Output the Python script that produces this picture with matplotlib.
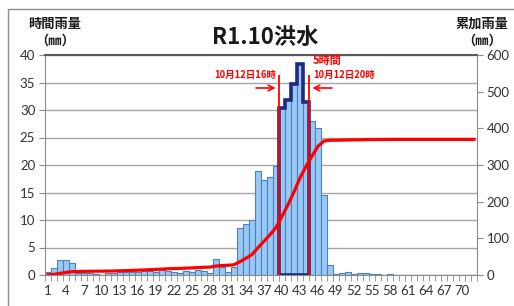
import numpy as np
import matplotlib.pyplot as plt
from matplotlib.patches import Rectangle

plt.rcParams['font.family'] = ['Noto Sans CJK JP', 'DejaVu Sans']

# hourly rainfall (mm), hours 1..72
hours = list(range(1, 73))
rain = [0.5, 1.2, 2.7, 2.7, 2.1, 0.4, 0.3, 0.3, 0.2, 0.0,
        0.3, 0.3, 0.5, 0.5, 0.6, 0.5, 0.7, 0.8, 0.6, 1.0,
        0.8, 0.6, 0.3, 0.8, 0.6, 1.0, 0.8, 0.4, 2.9, 1.5,
        0.6, 1.5, 8.5, 9.2, 10.0, 18.9, 17.3, 17.8, 19.8, 30.4,
        31.9, 34.7, 38.4, 31.4, 28.0, 26.8, 14.5, 1.8, 0.2, 0.3,
        0.5, 0.2, 0.3, 0.3, 0.2, 0.2, 0.0, 0.2, 0.0, 0.0,
        0.0, 0.0, 0.0, 0.0, 0.0, 0.0, 0.0, 0.0, 0.0, 0.0,
        0.0, 0.0]
# cumulative rainfall (mm)
cumulative = [0.5, 1.7, 4.4, 7.1, 9.2, 9.6, 9.9, 10.2, 10.4, 10.4,
              10.7, 11.0, 11.5, 12.0, 12.6, 13.1, 13.8, 14.6, 15.2, 16.2,
              17.0, 17.6, 17.9, 18.7, 19.3, 20.3, 21.1, 21.5, 24.4, 25.9,
              26.5, 28.0, 36.5, 45.7, 55.7, 74.6, 91.9, 109.7, 129.5, 159.9,
              191.8, 226.5, 264.9, 296.3, 324.3, 351.1, 365.6, 367.4, 367.6, 367.9,
              368.4, 368.6, 368.9, 369.2, 369.4, 369.6, 369.6, 369.8, 369.8, 369.8,
              369.8, 369.8, 369.8, 369.8, 369.8, 369.8, 369.8, 369.8, 369.8, 369.8,
              369.8, 369.8]
peak_start, peak_end = 40, 44   # 5-hour peak window
tick_labels = [str(h) for h in range(1, 71, 3)]

fig = plt.figure(figsize=(5.14, 3.06), dpi=100)
fig.patches.append(Rectangle((8 / 514, -0.2), 1.2, 1.2 - 9 / 306,
                             transform=fig.transFigure, fill=False,
                             edgecolor='#8c8c8c', lw=1))
ax = fig.add_axes([45 / 514, 31 / 306, 432 / 514, 220 / 306])

ax.bar(hours, rain, width=1.0, color='#99c8f5', edgecolor='#4f81bd', lw=0.8, zorder=2)

# peak-window outline
idx = slice(peak_start - 1, peak_end)
ax.stairs(rain[idx], np.arange(peak_start - 0.5, peak_end + 1.0), baseline=0,
          fill=False, color='#1f2a80', lw=2.6, zorder=4)
ax.plot([peak_start - 0.5, peak_end + 0.5], [0, 0], color='#1f2a80', lw=2.6,
        zorder=4, solid_capstyle='butt')
ax.vlines([peak_start - 0.5, peak_end + 0.5], 0, 36.3, color='red', lw=1.3, zorder=5)
ax.annotate('', xy=(peak_start - 0.6, 34.0), xytext=(peak_start - 4.8, 34.0),
            arrowprops=dict(arrowstyle='->', color='red', lw=1.2), zorder=5)
ax.annotate('', xy=(peak_end + 0.6, 34.0), xytext=(peak_end + 4.8, 34.0),
            arrowprops=dict(arrowstyle='->', color='red', lw=1.2), zorder=5)
ax.text(peak_start - 1.0, 35.5, '10月12日16時', color='red', fontsize=6.8,
        fontweight='bold', ha='right', va='bottom')
ax.text(peak_end + 1.2, 35.5, '10月12日20時', color='red', fontsize=6.8,
        fontweight='bold', ha='left', va='bottom')
ax.text(peak_end + 1.2, 37.8, '5時間', color='red', fontsize=8,
        fontweight='bold', ha='left', va='bottom')

ax.set_xlim(0.5, 72.5)
ax.set_ylim(0, 40)
ax.set_yticks(np.arange(0, 41, 5))
ax.set_xticks(range(1, 71, 3))
ax.set_xticklabels(tick_labels)
ax.set_xticks(np.arange(0.5, 73, 1), minor=True)
ax.tick_params(axis='x', which='major', length=0, pad=7, labelsize=9.5, labelcolor='#333333')
ax.tick_params(axis='x', which='minor', length=4, color='#8c8c8c')
ax.tick_params(axis='y', length=4, color='#8c8c8c', labelsize=9.5, labelcolor='#333333', pad=3)
for lab in ax.get_xticklabels() + ax.get_yticklabels():
    lab.set_family(['Lato', 'DejaVu Sans'])
ax.grid(axis='y', color='#a6a6a6', lw=1, zorder=0)
ax.set_axisbelow(True)
for s in ['left', 'bottom', 'right']:
    ax.spines[s].set_color('#8c8c8c')
ax.spines['top'].set_color('#595959')
ax.spines['top'].set_linewidth(1.5)

ax2 = ax.twinx()
ax2.plot(hours, cumulative, color='red', lw=2.3, zorder=6)
ax2.set_ylim(0, 600)
ax2.set_yticks(np.arange(0, 601, 100))
ax2.tick_params(axis='y', length=4, color='#8c8c8c', labelsize=9.5, labelcolor='#333333', pad=3)
for lab in ax2.get_yticklabels():
    lab.set_family(['Lato', 'DejaVu Sans'])
for s in ax2.spines.values():
    s.set_visible(False)

fig.text(265 / 514, 1 - 37 / 306, 'R1.10洪水', fontsize=16, fontweight='bold',
         ha='center', va='center', color='#1a1a1a')
fig.text(55 / 514, 1 - 24 / 306, '時間雨量', fontsize=9.5, fontweight='bold',
         ha='center', va='center', color='#1a1a1a')
fig.text(55 / 514, 1 - 41 / 306, '（㎜）', fontsize=9.5, fontweight='bold',
         ha='center', va='center', color='#1a1a1a')
fig.text(482 / 514, 1 - 24 / 306, '累加雨量', fontsize=9.5, fontweight='bold',
         ha='center', va='center', color='#1a1a1a')
fig.text(482 / 514, 1 - 41 / 306, '（㎜）', fontsize=9.5, fontweight='bold',
         ha='center', va='center', color='#1a1a1a')

fig.savefig('out.png', dpi=100)
